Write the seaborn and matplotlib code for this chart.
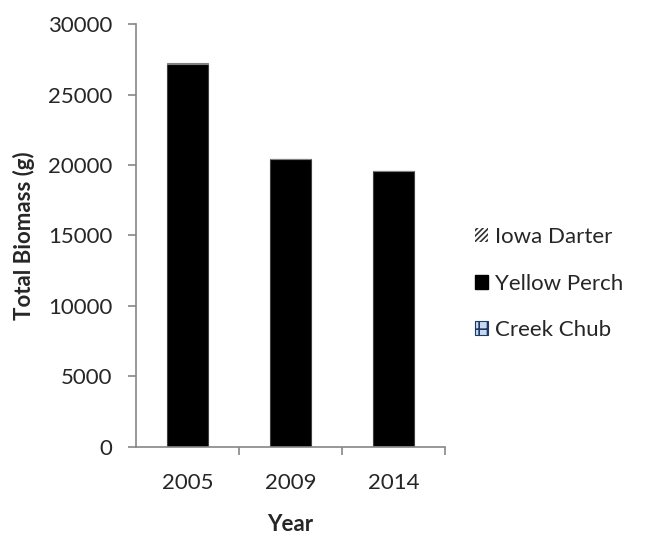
import matplotlib
matplotlib.use("Agg")
import matplotlib.pyplot as plt
import matplotlib.patches as mpatches
import seaborn as sns
import pandas as pd
import numpy as np

years = ["2005", "2009", "2014"]
creek_chub = [0, 0, 90]
yellow_perch = [27200, 20400, 19500]
iowa_darter = [20, 10, 10]

sns.set_theme(style="white")
plt.rcParams["font.family"] = ["Lato", "DejaVu Sans"]
plt.rcParams["hatch.linewidth"] = 1.2

FS = 16

fig = plt.figure(figsize=(6.5, 5.34), dpi=100)
ax = fig.add_axes([0.209, 0.163, 0.476, 0.792])

df = pd.DataFrame({"Year": years, "Creek Chub": creek_chub,
                   "Yellow Perch": yellow_perch, "Iowa Darter": iowa_darter})

base = np.zeros(len(years))
sns.barplot(data=df, x="Year", y="Creek Chub", color="#4f81bd", width=0.4,
            saturation=1, bottom=base, ax=ax, edgecolor="#4f81bd", linewidth=0.8)
base = base + np.array(creek_chub)
sns.barplot(data=df, x="Year", y="Yellow Perch", color="black", width=0.4,
            saturation=1, bottom=base, ax=ax, edgecolor="#404040", linewidth=0.8)
base = base + np.array(yellow_perch)
sns.barplot(data=df, x="Year", y="Iowa Darter", color="white", width=0.4,
            saturation=1, bottom=base, ax=ax, edgecolor="#808080", linewidth=0.8,
            hatch="////")

ax.set_ylim(0, 30000)
ax.set_xlim(-0.5, 2.5)
ax.set_yticks(range(0, 30001, 5000))
ax.set_yticklabels([str(v) for v in range(0, 30001, 5000)], fontsize=FS)
ax.set_xticks([0, 1, 2])
ax.set_xticklabels(years, fontsize=FS)
ax.xaxis.set_minor_locator(matplotlib.ticker.FixedLocator([0.5, 1.5, 2.5]))
ax.tick_params(axis="x", which="major", length=0, pad=19)
ax.tick_params(axis="x", which="minor", length=6, color="#868686", width=1.2)
ax.tick_params(axis="y", length=6, color="#868686", width=1.2, left=True, pad=11)
ax.tick_params(axis="x", bottom=True, which="minor")

for s in ["top", "right"]:
    ax.spines[s].set_visible(False)
for s in ["left", "bottom"]:
    ax.spines[s].set_color("#868686")
    ax.spines[s].set_linewidth(1.2)

ax.set_xlabel("Year", fontsize=FS, fontweight="bold", labelpad=15)
ax.set_ylabel("Total Biomass (g)", fontsize=FS, fontweight="bold", labelpad=9)

handles = [
    mpatches.Patch(facecolor="white", edgecolor="#303030", hatch="//////", linewidth=0),
    mpatches.Patch(facecolor="black", edgecolor="black"),
    mpatches.Patch(facecolor="#c6d9f1", edgecolor="#1f3864", hatch="++", linewidth=0.8),
]
fig.legend(handles, ["Iowa Darter", "Yellow Perch", "Creek Chub"],
           loc="center left", bbox_to_anchor=(0.70, 0.469), frameon=False,
           fontsize=FS, handlelength=0.6, handleheight=0.6, handletextpad=0.3,
           labelspacing=1.2)

fig.savefig("out.png", dpi=100)
